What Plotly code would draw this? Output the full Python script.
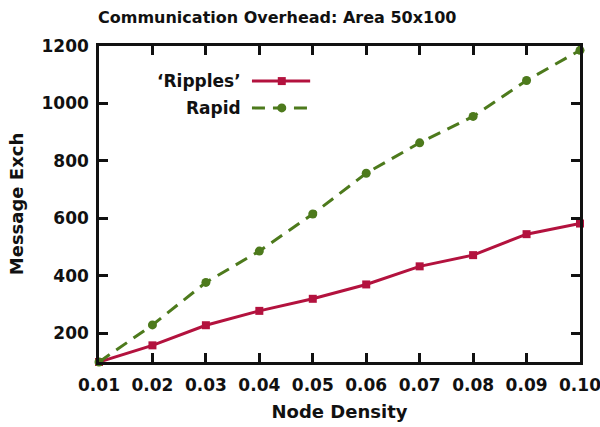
import plotly.graph_objects as go

# Node density (x) and message exchanges per protocol
node_density = [0.01, 0.02, 0.03, 0.04, 0.05, 0.06, 0.07, 0.08, 0.09, 0.10]
ripples_msgs = [100, 158, 228, 278, 320, 370, 433, 472, 545, 582]
rapid_msgs = [100, 229, 377, 486, 615, 757, 863, 955, 1080, 1185]

x_ticks = [0.01, 0.02, 0.03, 0.04, 0.05, 0.06, 0.07, 0.08, 0.09, 0.10]
x_tick_text = ["0.01", "0.02", "0.03", "0.04", "0.05", "0.06", "0.07", "0.08", "0.09", "0.10"]
y_ticks = [200, 400, 600, 800, 1000, 1200]

RED = "#b3123e"
GREEN = "#4d7a1c"
INK = "#111111"
FONT = "DejaVu Sans"
DASH = "13px,8px"

fig = go.Figure()

fig.add_trace(go.Scatter(
    x=node_density, y=ripples_msgs, mode="lines+markers",
    line=dict(color=RED, width=3),
    marker=dict(symbol="square", size=8, color=RED),
    cliponaxis=False, showlegend=False,
))
fig.add_trace(go.Scatter(
    x=node_density, y=rapid_msgs, mode="lines+markers",
    line=dict(color=GREEN, width=3, dash=DASH),
    marker=dict(symbol="circle", size=9, color=GREEN),
    cliponaxis=False, showlegend=False,
))

# Key samples drawn on an overlay axis spanning the plot area (0..1)
fig.add_trace(go.Scatter(
    x=[0.318, 0.439], y=[0.889, 0.889], mode="lines",
    line=dict(color=RED, width=3), xaxis="x2", yaxis="y2", showlegend=False,
))
fig.add_trace(go.Scatter(
    x=[0.380], y=[0.889], mode="markers",
    marker=dict(symbol="square", size=8, color=RED), xaxis="x2", yaxis="y2", showlegend=False,
))
fig.add_trace(go.Scatter(
    x=[0.318, 0.439], y=[0.804, 0.804], mode="lines",
    line=dict(color=GREEN, width=3, dash=DASH), xaxis="x2", yaxis="y2", showlegend=False,
))
fig.add_trace(go.Scatter(
    x=[0.380], y=[0.804], mode="markers",
    marker=dict(symbol="circle", size=9, color=GREEN), xaxis="x2", yaxis="y2", showlegend=False,
))

tick_font = dict(family=FONT, size=17, color=INK, weight="bold")
title_font = dict(family=FONT, size=18, color=INK, weight="bold")

fig.update_layout(
    width=600, height=427,
    margin=dict(l=99, r=20, t=46, b=65),
    paper_bgcolor="white", plot_bgcolor="white",
    font=dict(family=FONT, color=INK),
    xaxis=dict(
        range=[0.01, 0.10], tickvals=x_ticks, ticktext=x_tick_text,
        ticks="inside", ticklen=9, tickwidth=2.5, tickcolor=INK,
        showline=True, linewidth=2.5, linecolor=INK, mirror="allticks",
        showgrid=False, zeroline=False, automargin=False,
        ticklabeloverflow="allow", ticklabelstandoff=6,
        tickfont=tick_font,
        title=dict(text="Node Density", font=title_font, standoff=12),
    ),
    yaxis=dict(
        range=[100, 1200], tickvals=y_ticks,
        ticks="inside", ticklen=9, tickwidth=2.5, tickcolor=INK,
        showline=True, linewidth=2.5, linecolor=INK, mirror="allticks",
        showgrid=False, zeroline=False, automargin=False,
        ticklabeloverflow="allow", ticklabelstandoff=4,
        tickfont=tick_font,
        title=dict(text="Message Exch", font=title_font, standoff=14),
    ),
    xaxis2=dict(overlaying="x", range=[0, 1], visible=False, fixedrange=True),
    yaxis2=dict(overlaying="y", range=[0, 1], visible=False, fixedrange=True),
    annotations=[
        dict(text="Communication Overhead: Area 50x100", xref="paper", yref="paper",
             x=(277 - 99) / 481, y=1 + (46 - 18) / 316, xanchor="center", yanchor="middle",
             showarrow=False, font=dict(family=FONT, size=16, color=INK, weight="bold")),
        dict(text="‘Ripples’", xref="x2", yref="y2", x=0.30, y=0.889,
             xanchor="right", yanchor="middle", showarrow=False,
             font=dict(family=FONT, size=17, color=INK, weight="bold")),
        dict(text="Rapid", xref="x2", yref="y2", x=0.30, y=0.804,
             xanchor="right", yanchor="middle", showarrow=False,
             font=dict(family=FONT, size=17, color=INK, weight="bold")),
    ],
)

fig.for_each_trace(lambda t: t.update(hoverinfo="skip") if t.xaxis == "x2" else None)
fig.write_html("out.html")
